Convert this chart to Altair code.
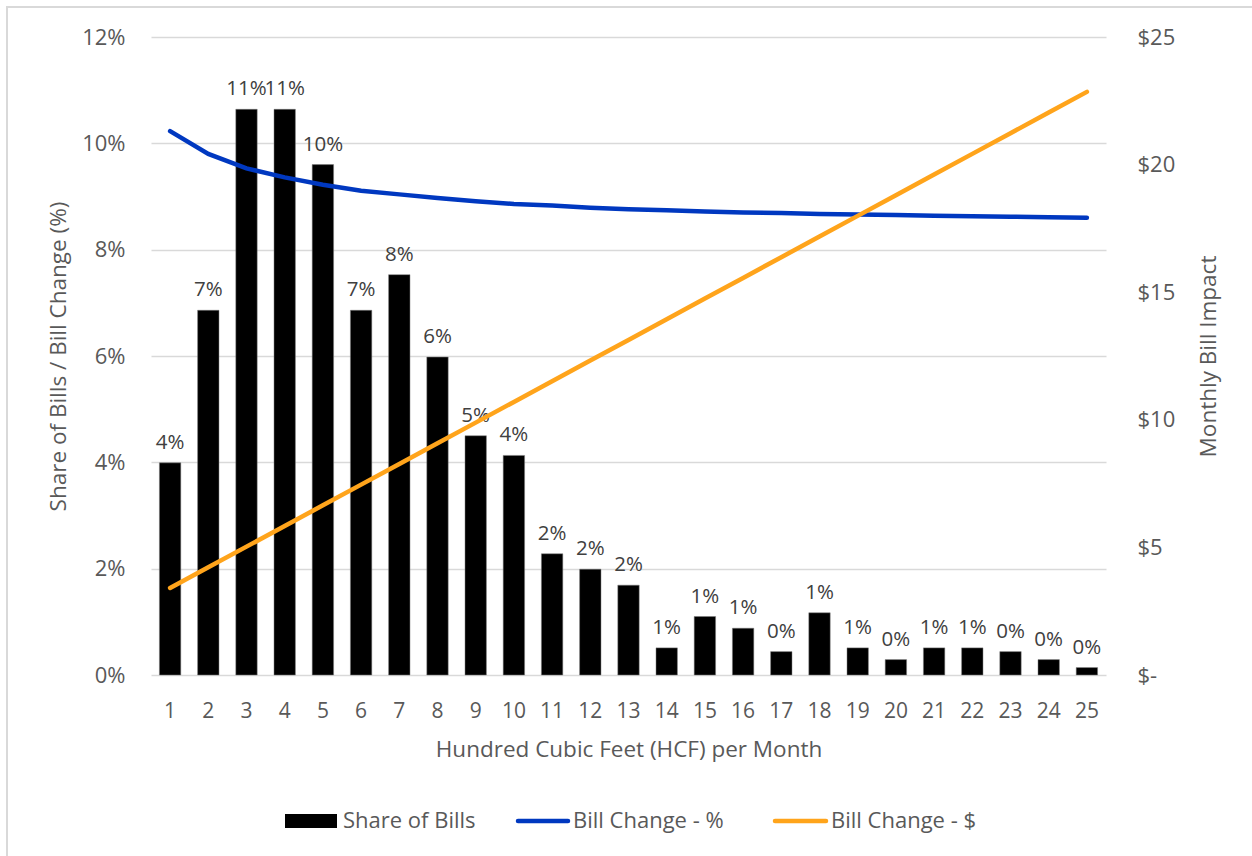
import altair as alt
import pandas as pd

# Monthly usage bins (hundred cubic feet)
hcf = list(range(1, 26))

# Share of bills falling in each usage bin
share_of_bills = [0.0399, 0.0686, 0.1064, 0.1064, 0.0960, 0.0686, 0.0753, 0.0598, 0.0450, 0.0413,
                  0.0228, 0.0199, 0.0169, 0.0051, 0.0110, 0.0088, 0.0044, 0.0117, 0.0051, 0.0029,
                  0.0051, 0.0051, 0.0044, 0.0029, 0.0014]

# Bill change in percent
bill_change_pct = [0.1023, 0.0980, 0.0953, 0.0936, 0.0922, 0.0911, 0.0904, 0.0897, 0.0891, 0.0886,
                   0.0883, 0.0879, 0.0876, 0.0874, 0.0872, 0.0870, 0.0869, 0.0867, 0.0866, 0.0865,
                   0.0864, 0.0863, 0.0862, 0.0861, 0.0860]

# Bill change in dollars
bill_change_usd = [3.41, 4.22, 5.03, 5.84, 6.65, 7.46, 8.27, 9.08, 9.89, 10.70,
                   11.51, 12.32, 13.13, 13.94, 14.75, 15.56, 16.37, 17.18, 17.99, 18.80,
                   19.61, 20.42, 21.23, 22.04, 22.85]

legend_labels = ["Share of Bills", "Bill Change - %", "Bill Change - $"]

FONT = "Open Sans"
GREY = "#595959"
BLUE = "#0038C0"
ORANGE = "#FFA41B"
W, H = 955, 638

df = pd.DataFrame({
    "HCF": hcf,
    "share": share_of_bills,
    "pct": bill_change_pct,
    "usd": bill_change_usd,
})

x_enc = alt.X(
    "HCF:O",
    title="Hundred Cubic Feet (HCF) per Month",
    scale=alt.Scale(paddingInner=0.44, paddingOuter=0.22),
    axis=alt.Axis(labelAngle=0, domain=False, ticks=False, labelPadding=25,
                  labelFontSize=21, titleFontSize=22.5, titlePadding=17,
                  labelColor=GREY, titleColor=GREY, titleFontWeight="normal"),
)

y_left = alt.Y(
    "share:Q",
    title="Share of Bills / Bill Change (%)",
    scale=alt.Scale(domain=[0, 0.12]),
    axis=alt.Axis(values=[0, 0.02, 0.04, 0.06, 0.08, 0.10, 0.12], format=".0%",
                  domain=False, ticks=False, labelPadding=26, grid=True,
                  gridColor="#d9d9d9", gridWidth=1.5,
                  labelFontSize=22, titleFontSize=22.5, titlePadding=11,
                  labelColor=GREY, titleColor=GREY, titleFontWeight="normal"),
)

bars = alt.Chart(df).mark_bar(color="black", stroke="#7f7f7f", strokeWidth=0.5).encode(
    x=x_enc, y=y_left
)

bar_labels = alt.Chart(df).mark_text(
    baseline="bottom", dy=-10, fontSize=20.5, font=FONT, color="#404040"
).encode(
    x="HCF:O",
    y="share:Q",
    text=alt.Text("share:Q", format=".0%"),
)

pct_line = alt.Chart(df).mark_line(color=BLUE, strokeWidth=4.5, strokeCap="round").encode(
    x="HCF:O",
    y=alt.Y("pct:Q"),
)

# light frame around the whole figure
frame = alt.Chart(pd.DataFrame({"f": [0]})).mark_rect(
    filled=False, stroke="#d9d9d9", strokeWidth=2
).encode(
    x=alt.value(-144), x2=alt.value(W + 200),
    y=alt.value(-30), y2=alt.value(H + 250),
)

# custom legend along the bottom
leg_df = pd.DataFrame({"label": [legend_labels[0]]})
leg_bar = alt.Chart(leg_df).mark_rect(color="black").encode(
    x=alt.value(134), x2=alt.value(186), y=alt.value(777), y2=alt.value(791)
)
leg_blue = alt.Chart(leg_df).mark_rule(color=BLUE, strokeWidth=4.5, strokeCap="round").encode(
    x=alt.value(367), x2=alt.value(417), y=alt.value(784)
)
leg_orange = alt.Chart(leg_df).mark_rule(color=ORANGE, strokeWidth=4.5, strokeCap="round").encode(
    x=alt.value(624), x2=alt.value(675), y=alt.value(784)
)
leg_texts = []
for label, xpos in zip(legend_labels, [192, 422, 680]):
    leg_texts.append(
        alt.Chart(pd.DataFrame({"label": [label]})).mark_text(
            align="left", baseline="middle", fontSize=22, font=FONT, color=GREY
        ).encode(x=alt.value(xpos), y=alt.value(784), text="label:N")
    )

left = alt.layer(frame, bars, bar_labels, pct_line, leg_bar, leg_blue, leg_orange, *leg_texts)

usd_line = alt.Chart(df).mark_line(color=ORANGE, strokeWidth=4.5, strokeCap="round").encode(
    x="HCF:O",
    y=alt.Y(
        "usd:Q",
        title="Monthly Bill Impact",
        scale=alt.Scale(domain=[0, 25]),
        axis=alt.Axis(orient="right", values=[0, 5, 10, 15, 20, 25],
                      labelExpr="datum.value == 0 ? '$-' : '$' + datum.value",
                      domain=False, ticks=False, grid=False, labelPadding=31,
                      labelFontSize=22, titleFontSize=22.5, titlePadding=46,
                      titleAngle=270, titleBaseline="bottom",
                      labelColor=GREY, titleColor=GREY, titleFontWeight="normal"),
    ),
)

chart = alt.layer(left, usd_line).resolve_scale(y="independent").properties(
    width=W, height=H,
    autosize=alt.AutoSizeParams(type="none"),
    padding={"left": 151, "top": 37, "right": 1252 - 151 - W, "bottom": 856 - 37 - H},
    background="white",
).configure_view(stroke=None).configure_axis(
    labelFont=FONT, titleFont=FONT
).configure_text(font=FONT)

chart.save("out.html", embed_options={"renderer": "svg", "actions": False})
